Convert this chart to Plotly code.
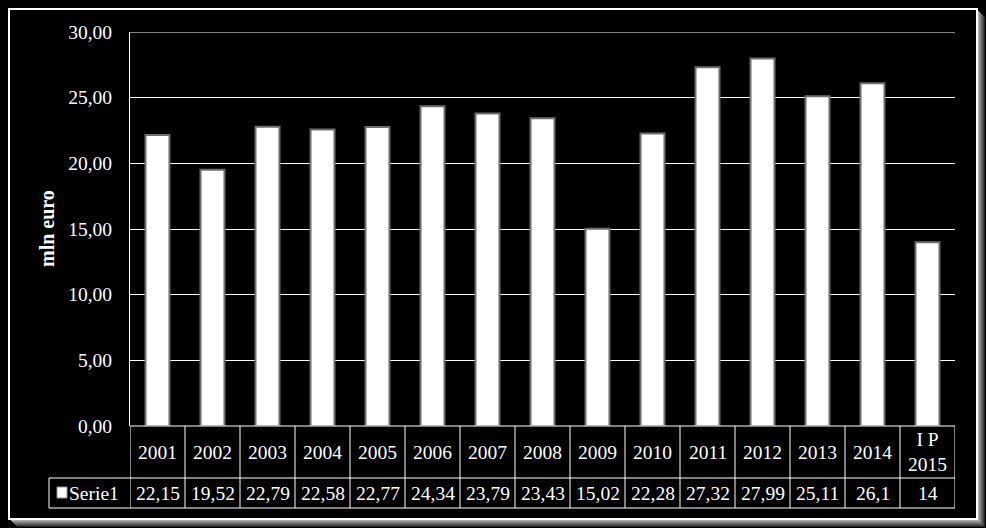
import plotly.graph_objects as go

# data
categories = ["2001", "2002", "2003", "2004", "2005", "2006", "2007", "2008",
              "2009", "2010", "2011", "2012", "2013", "2014", "I P 2015"]
tick_labels = ["2001", "2002", "2003", "2004", "2005", "2006", "2007", "2008",
               "2009", "2010", "2011", "2012", "2013", "2014", "I P<br>2015"]
serie1 = [22.15, 19.52, 22.79, 22.58, 22.77, 24.34, 23.79, 23.43,
          15.02, 22.28, 27.32, 27.99, 25.11, 26.1, 14]
series_name = "Serie1"
y_title = "mln euro"
y_max = 30

W, H = 986, 528
L, R, T, B = 130, 31, 32, 102
PW, PH = W - L - R, H - T - B

FONT = "Liberation Serif, Times New Roman, serif"
FS = 19.5


def px(xp):
    # pixel -> paper x
    return (xp - L) / PW


def py(yp):
    # pixel -> paper y
    return (H - B - yp) / PH


def fmt(v):
    return f"{v:g}".replace(".", ",")


fig = go.Figure()

fig.add_trace(
    go.Bar(
        x=categories,
        y=serie1,
        name=series_name,
        marker=dict(color="white", line=dict(color="rgb(110,110,110)", width=2)),
        showlegend=False,
    )
)

shapes = []

# shadow and outer frame
for k in range(8, 0, -1):
    g = int(40 + (8 - k) * 22)
    shapes.append(dict(type="rect", xref="paper", yref="paper",
                       x0=px(9 + k), x1=px(977 + k), y0=py(9 + k), y1=py(519 + k),
                       fillcolor=f"rgb({g},{g},{g})", line=dict(width=0), layer="below"))
shapes.append(dict(type="rect", xref="paper", yref="paper",
                   x0=px(9), x1=px(977), y0=py(9), y1=py(519),
                   fillcolor="black", line=dict(color="white", width=2), layer="below"))

# top gridline (plotly drops the one on the range edge)
shapes.append(dict(type="line", xref="paper", yref="y", x0=0, x1=1, y0=y_max, y1=y_max,
                   line=dict(color="white", width=1)))

# data table under the plot
row1 = py(478)
row2 = py(508)
n = len(categories)
for i in range(n + 1):
    shapes.append(dict(type="line", xref="x", yref="paper",
                       x0=i - 0.5, x1=i - 0.5, y0=0, y1=row2,
                       line=dict(color="white", width=1)))
for yy in (0, row1, row2):
    shapes.append(dict(type="line", xref="paper", yref="paper",
                       x0=0 if yy == 0 else px(49), x1=1, y0=yy, y1=yy,
                       line=dict(color="white", width=1)))
shapes.append(dict(type="line", xref="paper", yref="paper",
                   x0=px(49), x1=px(49), y0=row1, y1=row2, line=dict(color="white", width=1)))
# legend key
shapes.append(dict(type="rect", xref="paper", yref="paper",
                   x0=px(57), x1=px(67), y0=py(487), y1=py(498),
                   fillcolor="white", line=dict(color="rgb(150,150,150)", width=1)))

cell_font = dict(family=FONT, size=FS, color="white")
annotations = []
for i, lab in enumerate(tick_labels):
    annotations.append(dict(x=i, y=py(452), xref="x", yref="paper", text=lab,
                            showarrow=False, font=cell_font,
                            xanchor="center", yanchor="middle"))
for i, v in enumerate(serie1):
    annotations.append(dict(x=i, y=py(493), xref="x", yref="paper", text=fmt(v),
                            showarrow=False, font=cell_font,
                            xanchor="center", yanchor="middle"))
annotations.append(dict(x=px(67), y=py(493), xref="paper", yref="paper", text=series_name,
                        showarrow=False, font=cell_font,
                        xanchor="left", yanchor="middle"))
annotations.append(dict(x=px(47), y=0.5, xref="paper", yref="paper",
                        text="<b>" + y_title + "</b>", textangle=-90,
                        showarrow=False, font=dict(family=FONT, size=20, color="white"),
                        xanchor="center", yanchor="middle"))

fig.update_layout(
    width=W,
    height=H,
    margin=dict(l=L, r=R, t=T, b=B),
    paper_bgcolor="black",
    plot_bgcolor="black",
    separators=", ",
    bargap=0.564,
    shapes=shapes,
    annotations=annotations,
    font=dict(family=FONT, size=FS, color="white"),
)
fig.update_xaxes(type="category", showticklabels=False, ticks="", showgrid=False,
                 zeroline=False, showline=False, range=[-0.5, n - 0.5])
fig.update_yaxes(range=[0, y_max], dtick=5, tickformat=".2f", showgrid=True,
                 gridcolor="white", gridwidth=1, zeroline=False, showline=True,
                 linecolor="white", linewidth=1, ticks="", ticklabelstandoff=13,
                 tickfont=dict(family=FONT, size=FS, color="white"))

# page has an 8px body margin by default, drop it so the figure fills the window
fig.write_html("out.html", config={"displayModeBar": False},
               post_script="document.body.style.margin='0';")
